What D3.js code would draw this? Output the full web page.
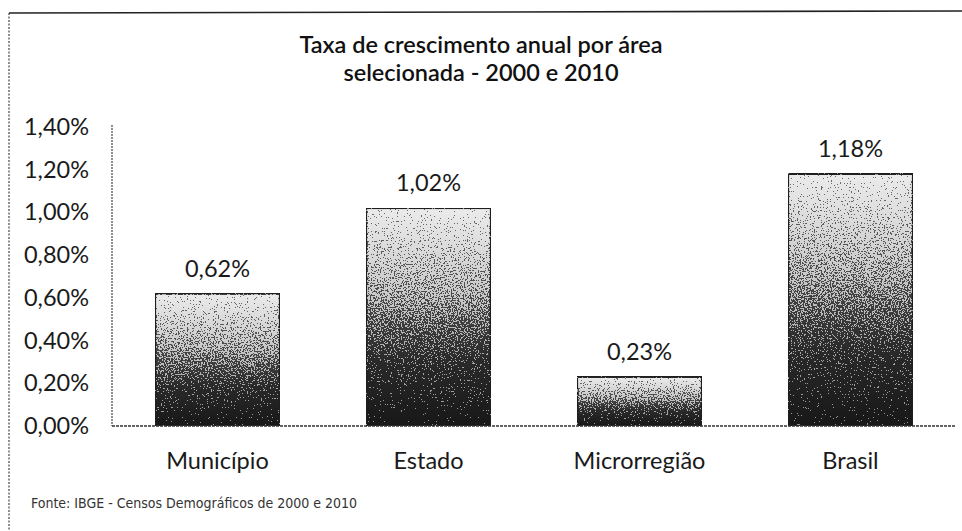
<!DOCTYPE html>
<html>
<head>
<meta charset="utf-8">
<script src="https://cdn.jsdelivr.net/npm/d3@7"></script>
<style>
  body { margin:0; background:#fff; }
  svg { display:block; font-family: Lato, "Open Sans", sans-serif; }
</style>
</head>
<body>
<svg id="chart" width="962" height="531"></svg>
<script>
const categories = ['Município', 'Estado', 'Microrregião', 'Brasil'];
const values = [0.62, 1.02, 0.23, 1.18];
const valueLabels = ['0,62%', '1,02%', '0,23%', '1,18%'];
const yTicks = [0, 0.2, 0.4, 0.6, 0.8, 1.0, 1.2, 1.4];

const width = 962, height = 531;
const svg = d3.select('#chart');

const fig = {
  margin: {top:127, right:8, bottom:105, left:112}
};
fig.height = height - fig.margin.top - fig.margin.bottom;
fig.width = width - fig.margin.left - fig.margin.right;

var x = d3.scaleBand()
  .domain(categories)
  .range([fig.margin.left, fig.margin.left + 844])
  .paddingInner(0.41)
  .paddingOuter(0.205)
  ;
var y = d3.scaleLinear()
  .domain([0, 1.4])
  .range([fig.margin.top + fig.height, fig.margin.top])
  ;

// gradient + dither for the scanned look
const defs = svg.append('defs');
const grad = defs.append('linearGradient')
  .attr('id','barGrad')
  .attr('x1',0).attr('y1',0).attr('x2',0).attr('y2',1);
grad.append('stop').attr('offset','0%').attr('stop-color','#dcdcdc');
grad.append('stop').attr('offset','40%').attr('stop-color','#909090');
grad.append('stop').attr('offset','70%').attr('stop-color','#444');
grad.append('stop').attr('offset','100%').attr('stop-color','#1c1c1c');

const filt = defs.append('filter').attr('id','grain')
  .attr('x',0).attr('y',0).attr('width',1).attr('height',1)
  .attr('color-interpolation-filters','sRGB');
filt.append('feTurbulence')
  .attr('type','fractalNoise').attr('baseFrequency',0.7)
  .attr('numOctaves',2).attr('seed',5).attr('result','noise');
filt.append('feColorMatrix')
  .attr('in','noise').attr('type','matrix')
  .attr('values','1 0 0 0 0  1 0 0 0 0  1 0 0 0 0  0 0 0 0 1')
  .attr('result','ng');
filt.append('feComposite')
  .attr('in','SourceGraphic').attr('in2','ng').attr('operator','arithmetic')
  .attr('k1',0).attr('k2',1).attr('k3',1.6).attr('k4',-0.8)
  .attr('result','sum');
const ct = filt.append('feComponentTransfer').attr('in','sum').attr('result','dith');
['feFuncR','feFuncG','feFuncB'].forEach(f =>
  ct.append(f).attr('type','discrete').attr('tableValues','0.08 0.97'));
filt.append('feComposite')
  .attr('in','dith').attr('in2','SourceGraphic').attr('operator','arithmetic')
  .attr('k1',0).attr('k2',0.55).attr('k3',0.45).attr('k4',0)
  .attr('result','mix');
filt.append('feComposite')
  .attr('in','mix').attr('in2','SourceAlpha').attr('operator','in');

// outer frame (scan edges)
svg.append('line')
  .attr('x1',9).attr('x2',width).attr('y1',13).attr('y2',11)
  .attr('stroke','#222').attr('stroke-width',1.6);
svg.append('line')
  .attr('x1',9).attr('x2',9).attr('y1',13).attr('y2',height)
  .attr('stroke','#444').attr('stroke-width',1.2)
  .attr('stroke-dasharray','2,1.5');

// title
svg.append('text')
  .attr('class','chartTitle')
  .attr('text-anchor','middle')
  .attr('x',481).attr('y',53)
  .attr('font-size','23.5px')
  .attr('font-weight','600')
  .attr('fill','#111')
  .text('Taxa de crescimento anual por área');
svg.append('text')
  .attr('class','chartTitle')
  .attr('text-anchor','middle')
  .attr('x',481).attr('y',81)
  .attr('font-size','23.5px')
  .attr('font-weight','600')
  .attr('fill','#111')
  .text('selecionada - 2000 e 2010');

// y axis
const yAxis = d3.axisLeft(y)
  .tickValues(yTicks)
  .tickSize(0)
  .tickPadding(0)
  .tickFormat(d => d3.format('.2f')(d).replace('.', ',') + '%');

const gy = svg.append('g')
  .attr('transform','translate(' + fig.margin.left + ',0)')
  .call(yAxis);
gy.select('.domain').remove();
gy.selectAll('text')
  .attr('x', 89 - fig.margin.left)
  .attr('text-anchor','end')
  .attr('font-family','Lato, sans-serif')
  .attr('font-size','23.5px')
  .attr('fill','#1a1a1a');

svg.append('line')
  .attr('x1',fig.margin.left).attr('x2',fig.margin.left)
  .attr('y1',y(1.4) - 2).attr('y2',y(0))
  .attr('stroke','#555').attr('stroke-width',1.3)
  .attr('stroke-dasharray','2,1');

// bars
svg.selectAll('.bar')
  .data(values)
  .join('rect')
    .attr('class','bar')
    .attr('x',(d,i) => x(categories[i]))
    .attr('y',d => y(d))
    .attr('width',x.bandwidth())
    .attr('height',d => y(0) - y(d))
    .attr('fill','url(#barGrad)')
    .attr('filter','url(#grain)')
    .attr('stroke','#2a2a2a')
    .attr('stroke-width',2)
    ;

// baseline
svg.append('line')
  .attr('x1',fig.margin.left).attr('x2',955)
  .attr('y1',y(0)).attr('y2',y(0))
  .attr('stroke','#333').attr('stroke-width',1.5)
  .attr('stroke-dasharray','3,1');

// value labels
svg.selectAll('.valLabel')
  .data(values)
  .join('text')
    .attr('class','valLabel')
    .attr('x',(d,i) => x(categories[i]) + x.bandwidth()/2)
    .attr('y',d => y(d) - 17)
    .attr('text-anchor','middle')
    .attr('font-size','23.5px')
    .attr('fill','#1a1a1a')
    .text((d,i) => valueLabels[i]);

// x axis labels
const xAxis = d3.axisBottom(x).tickSize(0).tickPadding(0);
const gx = svg.append('g')
  .attr('transform','translate(0,' + (y(0) + 43) + ')')
  .call(xAxis);
gx.select('.domain').remove();
gx.selectAll('text')
  .attr('dy',0)
  .attr('font-family','Lato, sans-serif')
  .attr('font-size','23.5px')
  .attr('fill','#1a1a1a');

// source
svg.append('text')
  .attr('x',31).attr('y',508)
  .attr('font-size','14px')
  .attr('font-family','"Liberation Sans Narrow", "DejaVu Sans Condensed", sans-serif')
  .attr('fill','#333')
  .text('Fonte: IBGE - Censos Demográficos de 2000 e 2010');
</script>
</body>
</html>
